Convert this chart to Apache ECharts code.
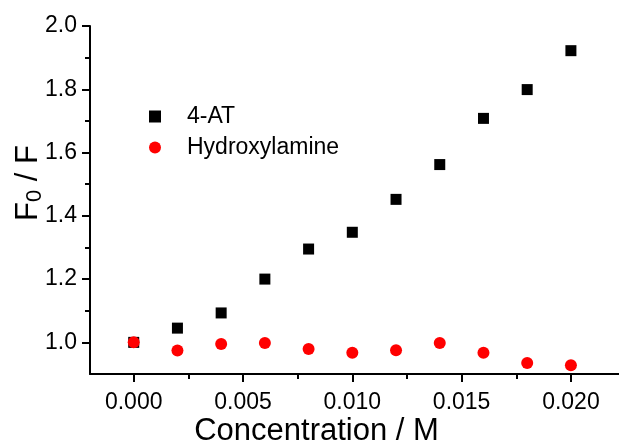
<!DOCTYPE html>
<html>
<head>
<meta charset="utf-8">
<script src="https://cdn.jsdelivr.net/npm/echarts@6/dist/echarts.min.js"></script>
<style>
  html, body { margin: 0; padding: 0; background: #fff; }
  #chart { width: 619px; height: 445px; }
</style>
</head>
<body>
<div id="chart"></div>
<script>
// concentration (M) and F0/F values
var concentration = [0, 0.002, 0.004, 0.006, 0.008, 0.010, 0.012, 0.014, 0.016, 0.018, 0.020];
var at4 = [1.0, 1.045, 1.093, 1.200, 1.295, 1.348, 1.452, 1.562, 1.708, 1.799, 1.922];
var hydroxylamine = [1.0, 0.974, 0.995, 0.998, 0.979, 0.967, 0.975, 0.998, 0.967, 0.935, 0.928];

var xMajorTicks = [0, 0.005, 0.010, 0.015, 0.020];
var xMinorTicks = [0.0025, 0.0075, 0.0125, 0.0175];
var yMajorTicks = [1.0, 1.2, 1.4, 1.6, 1.8, 2.0];
var yMinorTicks = [1.1, 1.3, 1.5, 1.7, 1.9];

var font = "'Liberation Sans', Arial, sans-serif";

function pairs(xs, ys) {
    return xs.map(function (x, i) { return [x, ys[i]]; });
}

var chart = echarts.init(document.getElementById('chart'));

var option = {
    backgroundColor: '#fff',
    animation: false,
    textStyle: { fontFamily: font },
    grid: { left: 90, right: 0, top: 26, bottom: 71, outerBoundsMode: 'none', containLabel: false },
    legend: {
        orient: 'vertical',
        left: 144,
        top: 100,
        itemWidth: 12,
        itemHeight: 12,
        itemGap: 8,
        textStyle: { fontFamily: font, fontSize: 23, color: '#000', padding: [0, 0, 0, 21] },
        data: ['4-AT', 'Hydroxylamine']
    },
    xAxis: [{
        type: 'value',
        min: -0.002,
        max: 0.0222,
        splitLine: { show: false },
        axisLine: { onZero: false, lineStyle: { color: '#000', width: 2 } },
        axisTick: { customValues: xMajorTicks, length: 8, lineStyle: { color: '#000', width: 2 } },
        axisLabel: {
            customValues: xMajorTicks,
            margin: 17,
            fontSize: 23,
            color: '#000',
            fontFamily: font,
            formatter: function (v) { return v.toFixed(3); }
        },
        name: 'Concentration / M',
        nameLocation: 'middle',
        nameGap: 42,
        nameMoveOverlap: false,
        nameTextStyle: { fontSize: 31, color: '#000', fontFamily: font, padding: [0, 76, 0, 0] }
    }, {
        type: 'value',
        min: -0.002,
        max: 0.0222,
        position: 'bottom',
        splitLine: { show: false },
        axisLine: { show: false, onZero: false },
        axisTick: { customValues: xMinorTicks, length: 5, lineStyle: { color: '#000', width: 2 } },
        axisLabel: { show: false }
    }],
    yAxis: [{
        type: 'value',
        min: 0.9,
        max: 2.0,
        splitLine: { show: false },
        axisLine: { onZero: false, lineStyle: { color: '#000', width: 2 } },
        axisTick: { customValues: yMajorTicks, length: 8, lineStyle: { color: '#000', width: 2 } },
        axisLabel: {
            customValues: yMajorTicks,
            margin: 13,
            fontSize: 23,
            color: '#000',
            fontFamily: font,
            formatter: function (v) { return v.toFixed(1); }
        },
        name: 'F{sub|0} / F',
        nameLocation: 'middle',
        nameRotate: 90,
        nameGap: 44,
        nameMoveOverlap: false,
        nameTextStyle: {
            fontSize: 31,
            color: '#000',
            fontFamily: font,
            padding: [0, 0, 0, 34],
            rich: {
                sub: { fontSize: 22, color: '#000', fontFamily: font, padding: [14, 0, 0, 0] }
            }
        }
    }, {
        type: 'value',
        min: 0.9,
        max: 2.0,
        position: 'left',
        splitLine: { show: false },
        axisLine: { show: false, onZero: false },
        axisTick: { customValues: yMinorTicks, length: 5, lineStyle: { color: '#000', width: 2 } },
        axisLabel: { show: false }
    }],
    series: [{
        name: '4-AT',
        type: 'scatter',
        symbol: 'rect',
        symbolSize: 11,
        itemStyle: { color: '#000', opacity: 1 },
        data: pairs(concentration, at4)
    }, {
        name: 'Hydroxylamine',
        type: 'scatter',
        symbol: 'circle',
        symbolSize: 12,
        itemStyle: { color: '#ff0000', opacity: 1 },
        data: pairs(concentration, hydroxylamine)
    }]
};

chart.setOption(option);
</script>
</body>
</html>
